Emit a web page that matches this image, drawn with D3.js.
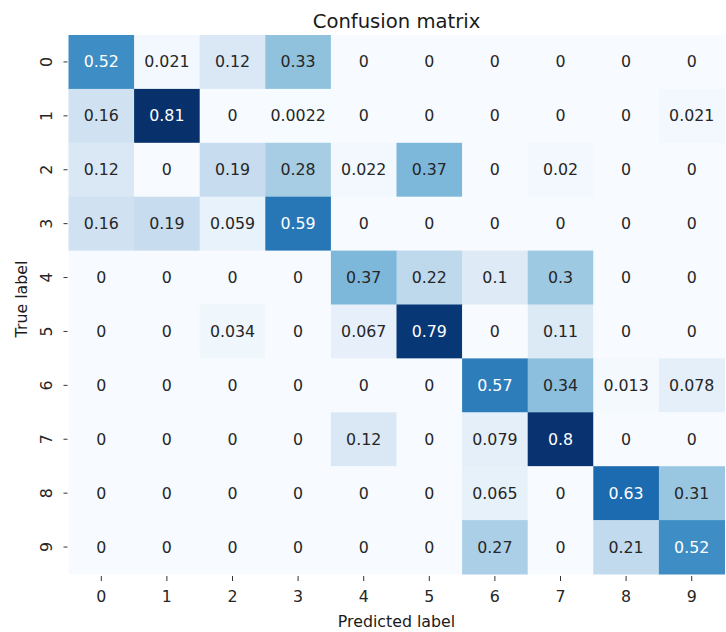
<!DOCTYPE html>
<html>
<head>
<meta charset="utf-8">
<script src="https://cdn.jsdelivr.net/npm/d3@7"></script>
<style>
  html, body { margin: 0; padding: 0; background: #fff; }
  svg { display: block; font-family: "DejaVu Sans", sans-serif; }
</style>
</head>
<body>
<svg id="chart" width="726" height="632"></svg>
<script>
// Class labels for both axes
const predictedLabels = ["0", "1", "2", "3", "4", "5", "6", "7", "8", "9"];
const trueLabels = ["0", "1", "2", "3", "4", "5", "6", "7", "8", "9"];

// Normalised confusion matrix, one row per true label
const row0 = [0.52, 0.021, 0.12, 0.33, 0, 0, 0, 0, 0, 0];
const row1 = [0.16, 0.81, 0, 0.0022, 0, 0, 0, 0, 0, 0.021];
const row2 = [0.12, 0, 0.19, 0.28, 0.022, 0.37, 0, 0.02, 0, 0];
const row3 = [0.16, 0.19, 0.059, 0.59, 0, 0, 0, 0, 0, 0];
const row4 = [0, 0, 0, 0, 0.37, 0.22, 0.1, 0.3, 0, 0];
const row5 = [0, 0, 0.034, 0, 0.067, 0.79, 0, 0.11, 0, 0];
const row6 = [0, 0, 0, 0, 0, 0, 0.57, 0.34, 0.013, 0.078];
const row7 = [0, 0, 0, 0, 0.12, 0, 0.079, 0.8, 0, 0];
const row8 = [0, 0, 0, 0, 0, 0, 0.065, 0, 0.63, 0.31];
const row9 = [0, 0, 0, 0, 0, 0, 0.27, 0, 0.21, 0.52];
const matrix = [row0, row1, row2, row3, row4, row5, row6, row7, row8, row9];

const cells = [];
matrix.forEach((r, i) => r.forEach((v, j) => cells.push({ t: trueLabels[i], p: predictedLabels[j], v })));

const svg = d3.select("#chart");
const W = 726, H = 632;
const plot = { left: 68.5, right: 724.5, top: 35, bottom: 574 };
const fontSize = 15.8;

const x = d3.scaleBand().domain(predictedLabels).range([plot.left, plot.right]);
const y = d3.scaleBand().domain(trueLabels).range([plot.top, plot.bottom]);

const vmax = d3.max(cells, d => d.v);
const color = d3.scaleSequential(d3.interpolateBlues).domain([0, vmax]);
const fmt = d3.format(".2~g");

// Cells
svg.append("g").selectAll("rect").data(cells).join("rect")
  .attr("x", d => x(d.p))
  .attr("y", d => y(d.t))
  .attr("width", x.bandwidth() + 0.5)
  .attr("height", y.bandwidth() + 0.5)
  .attr("fill", d => color(d.v));

// Annotations, light text on dark cells
function luminance(c) {
  const rgb = d3.rgb(c);
  const ch = [rgb.r, rgb.g, rgb.b].map(u => {
    u /= 255;
    return u <= 0.03928 ? u / 12.92 : Math.pow((u + 0.055) / 1.055, 2.4);
  });
  return 0.2126 * ch[0] + 0.7152 * ch[1] + 0.0722 * ch[2];
}
svg.append("g").selectAll("text").data(cells).join("text")
  .attr("x", d => x(d.p) + x.bandwidth() / 2)
  .attr("y", d => y(d.t) + y.bandwidth() / 2)
  .attr("text-anchor", "middle")
  .attr("dominant-baseline", "central")
  .attr("font-size", fontSize)
  .attr("fill", d => luminance(color(d.v)) > 0.3 ? "#262626" : "#ffffff")
  .text(d => fmt(d.v));

// Axes
const xAxis = svg.append("g")
  .attr("transform", `translate(0,${plot.bottom})`)
  .call(d3.axisBottom(x).tickSize(5));
const yAxis = svg.append("g")
  .attr("transform", `translate(${plot.left},0)`)
  .call(d3.axisLeft(y).tickSize(4));

[xAxis, yAxis].forEach(a => {
  a.select(".domain").remove();
  a.selectAll(".tick line").attr("stroke", "#333").attr("stroke-width", 1);
  a.selectAll(".tick text").attr("fill", "#262626").attr("font-size", fontSize)
    .attr("font-family", "DejaVu Sans, sans-serif");
});
xAxis.selectAll(".tick line").attr("transform", "translate(0,2)");
yAxis.selectAll(".tick line").attr("transform", "translate(-1,0)");

// Rotated y tick labels reading bottom to top
yAxis.selectAll(".tick text")
  .attr("x", null).attr("dy", null)
  .attr("text-anchor", "middle")
  .attr("dominant-baseline", "central")
  .attr("transform", `translate(${46.5 - plot.left},0) rotate(-90)`);
xAxis.selectAll(".tick text").attr("dy", null).attr("y", 601.7 - plot.bottom);

// Title and axis labels
svg.append("text")
  .attr("x", (plot.left + plot.right) / 2)
  .attr("y", 28.3)
  .attr("text-anchor", "middle")
  .attr("font-size", 19.6)
  .attr("fill", "#1a1a1a")
  .text("Confusion matrix");

svg.append("text")
  .attr("x", (plot.left + plot.right) / 2)
  .attr("y", 626.5)
  .attr("text-anchor", "middle")
  .attr("font-size", fontSize)
  .attr("fill", "#1a1a1a")
  .text("Predicted label");

svg.append("text")
  .attr("transform", `translate(27,299) rotate(-90)`)
  .attr("text-anchor", "middle")
  .attr("font-size", fontSize)
  .attr("fill", "#1a1a1a")
  .text("True label");
</script>
</body>
</html>
